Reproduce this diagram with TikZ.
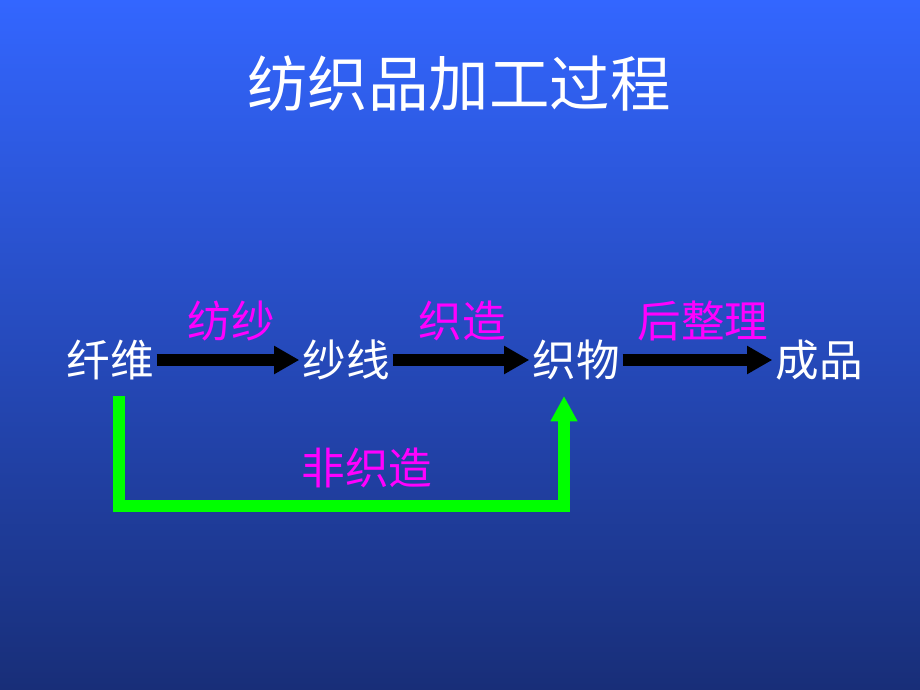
\documentclass[tikz,border=0pt]{standalone}
\usepackage{fontspec}
\newfontfamily\cjk{Noto Sans CJK SC}
\usetikzlibrary{arrows.meta,positioning}
\definecolor{topblue}{HTML}{3366FF}
\definecolor{botblue}{HTML}{182E78}
\definecolor{vivgreen}{HTML}{00FF00}
\definecolor{procpink}{HTML}{FF00FF}

\begin{document}
\begin{tikzpicture}[x=0.025cm,y=-0.025cm,
    step node/.style={text=white,font=\cjk\fontsize{31}{31}\selectfont,inner sep=2pt},
    proc label/.style={text=procpink,font=\cjk\fontsize{31}{31}\selectfont,inner sep=0pt},
    flow/.style={line width=8.5pt,-{Triangle[length=18pt,width=19pt]}}]

            \shade[top color=topblue,bottom color=botblue] (0,0) rectangle (920,690);
            \useasboundingbox (0,0) rectangle (920,690);

            \node[text=white,font=\cjk\fontsize{43}{43}\selectfont] (title) at (459,84) {纺织品加工过程};

            \node[step node]  (fiber)  at (110,360) {纤维};
            \node[step node]  (yarn)   at (346,360) {纱线};
            \node[step node]  (fabric) at (576,360) {织物};
            \node[step node]  (goods)  at (819,360) {成品};

            \node[proc label] (spin)  at (231,321) {纺纱};
            \node[proc label] (weave) at (462,321) {织造};
            \node[proc label] (finish) at (703,321) {后整理};
            \node[proc label] (nonwoven) at (367,468) {非织造};

            % main line
            \draw[flow] (fiber.east) -- (yarn.west);
            \draw[flow] (yarn.east) -- (fabric.west);
            \draw[flow] (fabric.east) -- (goods.west);

            % bypass
            \coordinate (gs) at (119,396);
            \coordinate (ge) at (564,396);
            \draw[vivgreen,line width=8.5pt,line join=miter,-{Triangle[length=18pt,width=18pt]}]
                (gs) -- (119,506) -- (564,506) -- (ge);

        \end{tikzpicture}
\end{document}
